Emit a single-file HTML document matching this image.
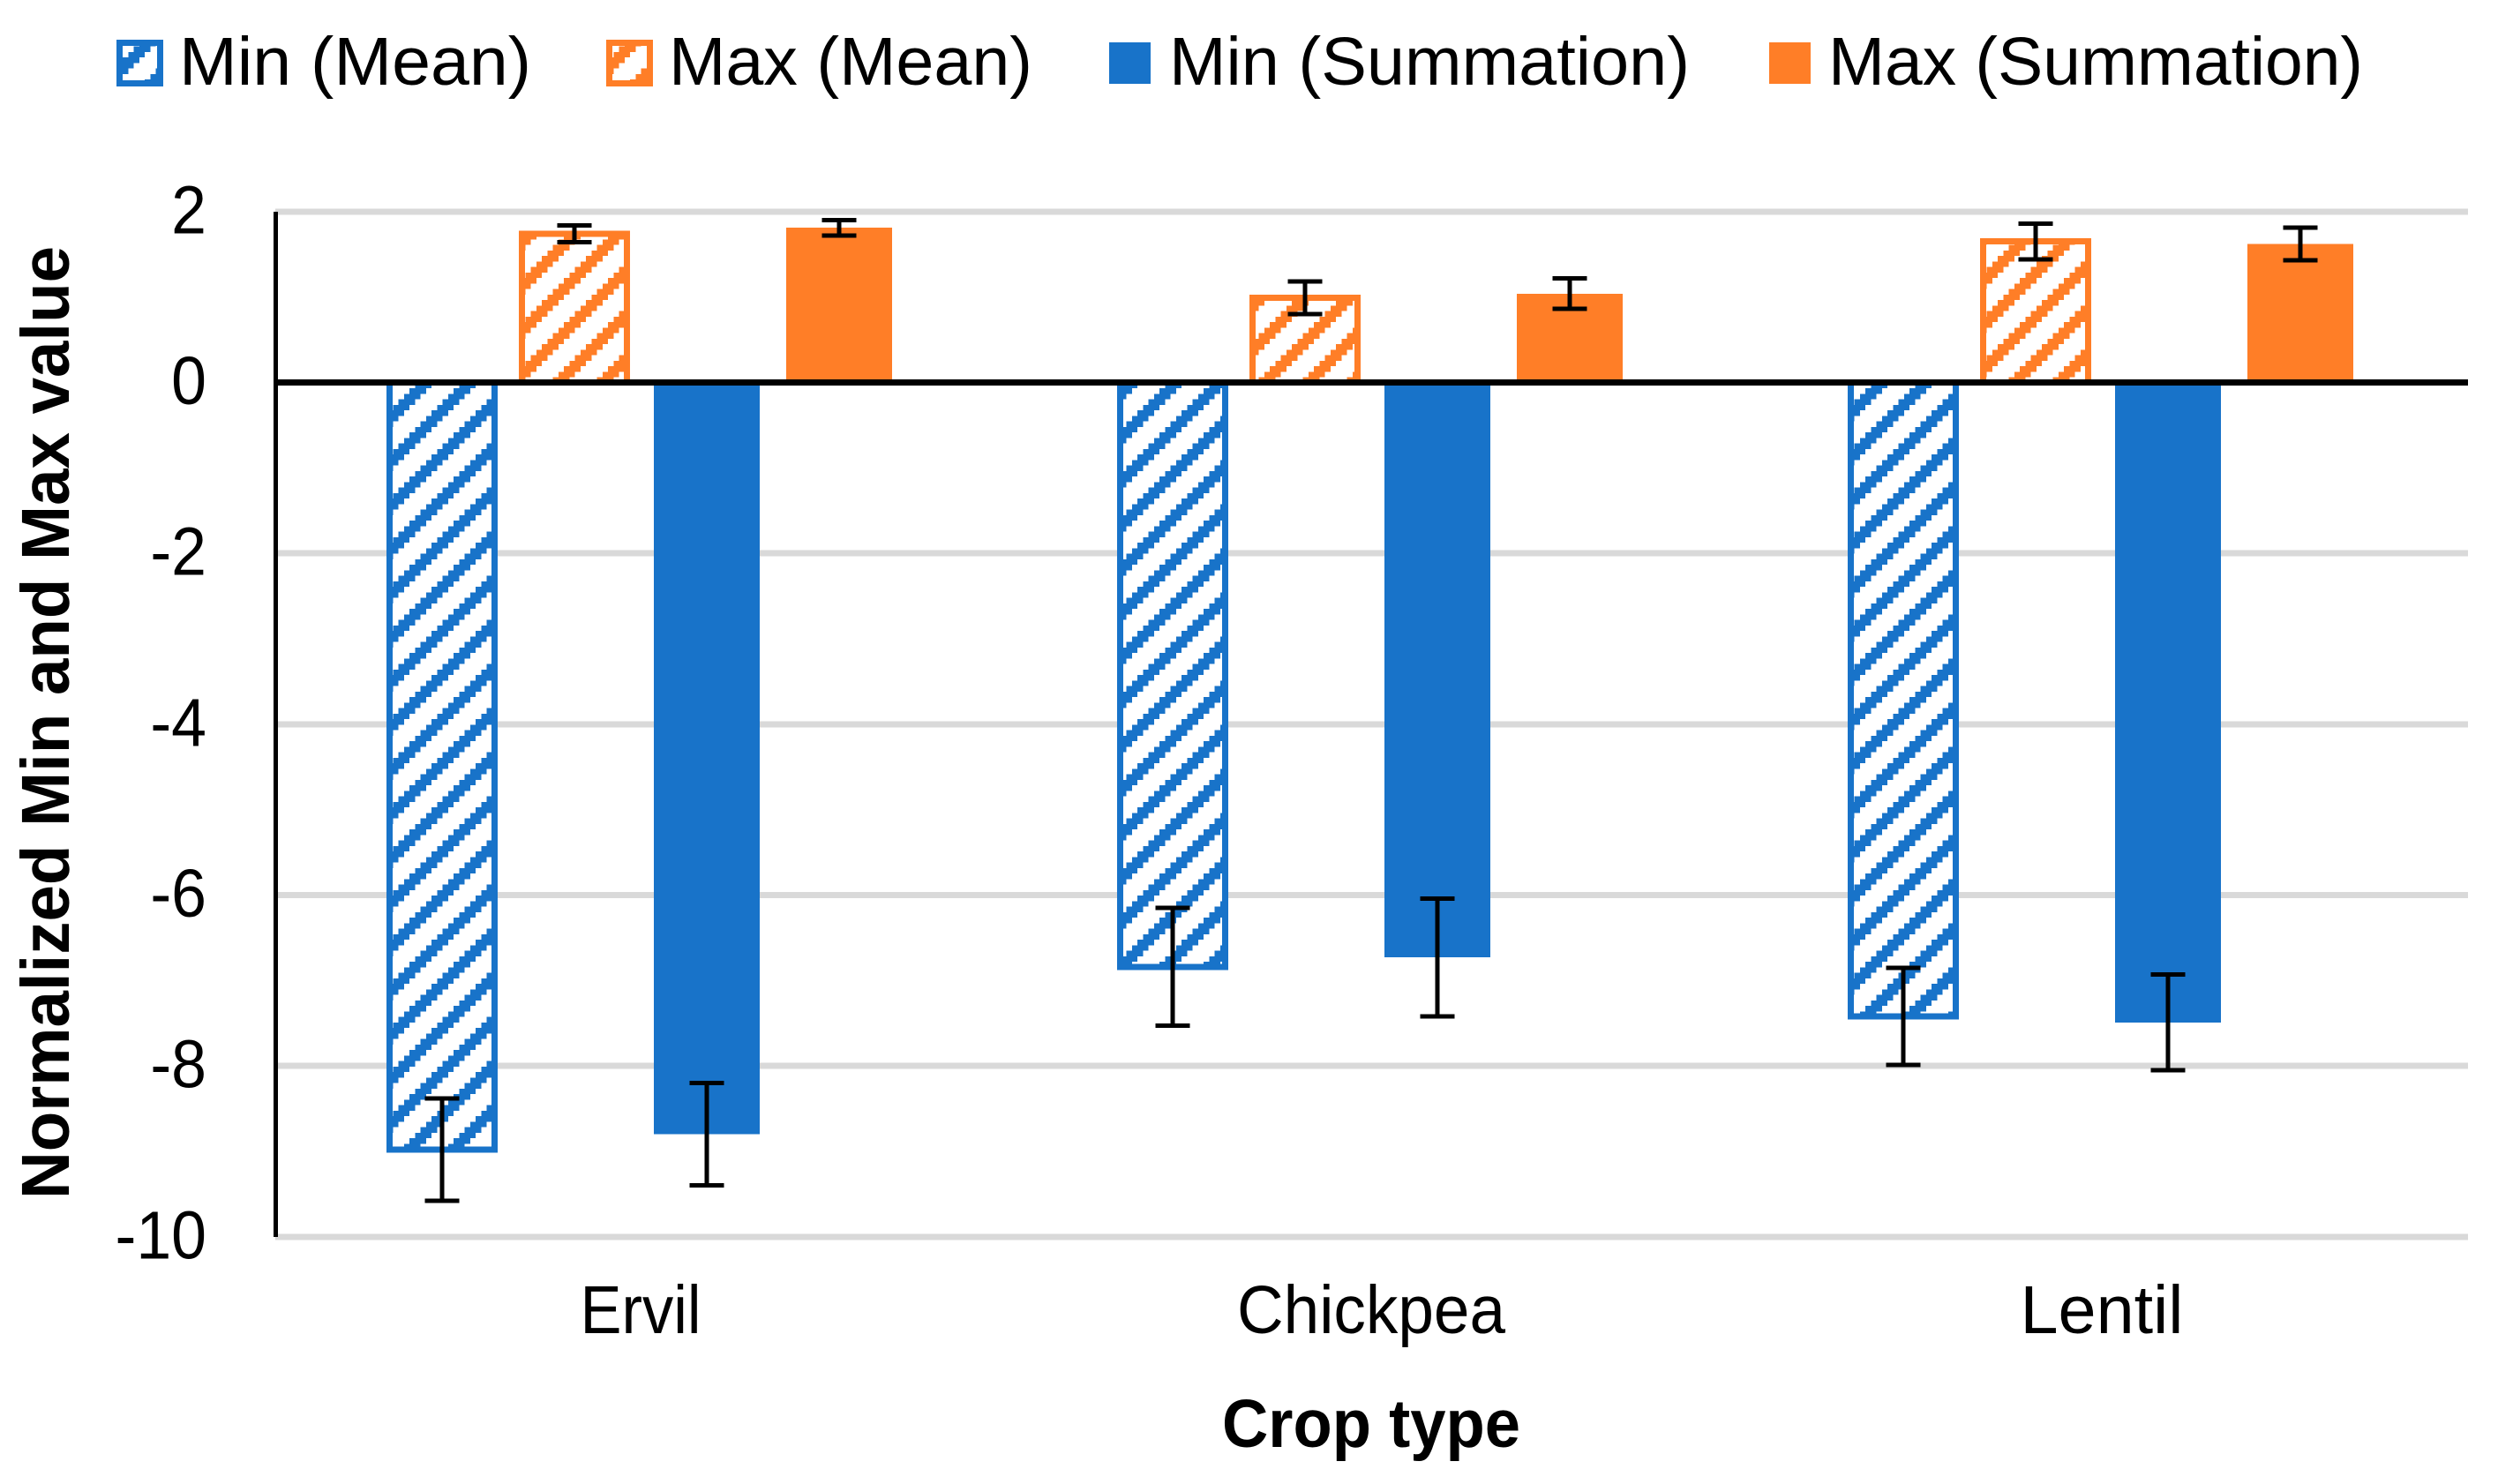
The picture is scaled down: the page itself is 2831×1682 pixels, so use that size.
<!DOCTYPE html>
<html lang="en">
<head>
<meta charset="utf-8">
<title>Normalized Min and Max value by crop type</title>
<style>
  html, body { margin: 0; padding: 0; background: #ffffff; }
  svg { display: block; }
  text { font-family: "Liberation Sans", sans-serif; fill: #000000; }
  rect { shape-rendering: crispEdges; }
</style>
</head>
<body>
<svg id="chart" xmlns="http://www.w3.org/2000/svg" width="2831" height="1682" viewBox="0 0 2831 1682">
  <defs>
    <pattern id="hatch-blue" patternUnits="userSpaceOnUse" width="50" height="50" shape-rendering="crispEdges"><rect width="50" height="50" fill="#ffffff"/><g id="hatch-blue-cells" fill="#1873c9"></g></pattern>
    <pattern id="hatch-orange" patternUnits="userSpaceOnUse" width="50" height="50" shape-rendering="crispEdges"><rect width="50" height="50" fill="#ffffff"/><g id="hatch-orange-cells" fill="#ff7e27"></g></pattern>
  </defs>
  <rect width="2831" height="1682" fill="#ffffff"/>

  <g>
    <g>
      <rect x="135.5" y="48.5" width="46" height="46" fill="url(#hatch-blue)" stroke="#1873c9" stroke-width="7"/>
      <text x="203" y="96" font-size="77" textLength="399" lengthAdjust="spacingAndGlyphs">Min (Mean)</text>
    </g>
    <g>
      <rect x="690.5" y="48.5" width="46" height="46" fill="url(#hatch-orange)" stroke="#ff7e27" stroke-width="7"/>
      <text x="758" y="96" font-size="77" textLength="412" lengthAdjust="spacingAndGlyphs">Max (Mean)</text>
    </g>
    <g>
      <rect x="1257" y="48" width="47" height="47" fill="#1873c9"/>
      <text x="1325" y="96" font-size="77" textLength="590" lengthAdjust="spacingAndGlyphs">Min (Summation)</text>
    </g>
    <g>
      <rect x="2005" y="48" width="47" height="47" fill="#ff7e27"/>
      <text x="2072" y="96" font-size="77" textLength="606" lengthAdjust="spacingAndGlyphs">Max (Summation)</text>
    </g>
  </g>

  <g id="grid"></g>
  <g id="bars"></g>
  <g id="axes"></g>
  <g id="errors"></g>
  <g id="ticks"></g>
  <g id="cats"></g>

  <text x="1554" y="1640" font-size="77" font-weight="700" text-anchor="middle" textLength="338" lengthAdjust="spacingAndGlyphs">Crop type</text>
  <text transform="translate(78 1359) rotate(-90)" x="0" y="0" font-size="77" font-weight="700" textLength="1080" lengthAdjust="spacingAndGlyphs">Normalized Min and Max value</text>
</svg>

<script>
const categories = ["Ervil", "Chickpea", "Lentil"];
const tickValues = [2, 0, -2, -4, -6, -8, -10];
const tickLabels = ["2", "0", "-2", "-4", "-6", "-8", "-10"];

const minMean = [-8.98, -6.84, -7.42];
const maxMean = [1.74, 0.99, 1.65];
const minSum = [-8.80, -6.73, -7.49];
const maxSum = [1.81, 1.04, 1.62];

const minMeanErr = [0.60, 0.69, 0.57];
const maxMeanErr = [0.10, 0.19, 0.21];
const minSumErr = [0.60, 0.69, 0.56];
const maxSumErr = [0.09, 0.18, 0.19];

const NS = "http://www.w3.org/2000/svg";
const plotLeft = 312, plotRight = 2797;
const zeroY = 433.5, pxPerUnit = 96.83;
const bandWidth = 828, seriesStep = 150;
const BLUE = "#1873c9", ORANGE = "#ff7e27";
const labelFit = { Ervil: 137, Chickpea: 304, Lentil: 185 };

function yScale(v) { return zeroY - v * pxPerUnit; }
function xScale(cat, series) { return plotLeft + bandWidth * (cat + 0.5) + (series - 1.5) * seriesStep; }

function make(tag, attrs, parent) {
  const el = document.createElementNS(NS, tag);
  for (const k in attrs) el.setAttribute(k, attrs[k]);
  parent.appendChild(el);
  return el;
}

// 8x8 "wide upward diagonal" hatch tiled at 50px, anchored globally like the source bitmap fill
function buildHatch(id) {
  const g = document.getElementById(id);
  const cell = 6.25;
  for (let r = 0; r < 8; r++) {
    const y0 = (40 + cell * r) % 50;
    const x0 = ((14 - cell * r) % 50 + 50) % 50;
    [y0, y0 - 50].forEach(function (y) {
      [x0, x0 - 50].forEach(function (x) {
        make("rect", { x: x, y: y, width: cell * 3, height: cell }, g);
      });
    });
  }
}
buildHatch("hatch-blue-cells");
buildHatch("hatch-orange-cells");

// gridlines
const gridG = document.getElementById("grid");
tickValues.forEach(function (v) {
  if (v === 0) return;
  const ln = make("rect", { x: plotLeft, y: yScale(v) - 3.5, width: plotRight - plotLeft, height: 7, fill: "#d9d9d9" }, gridG);
  
  
});

// bars
const barsG = document.getElementById("bars");
const errG = document.getElementById("errors");
const seriesList = [
  { key: "min-mean", values: minMean, errs: minMeanErr, color: BLUE, hatch: "url(#hatch-blue)" },
  { key: "max-mean", values: maxMean, errs: maxMeanErr, color: ORANGE, hatch: "url(#hatch-orange)" },
  { key: "min-summation", values: minSum, errs: minSumErr, color: BLUE, hatch: null },
  { key: "max-summation", values: maxSum, errs: maxSumErr, color: ORANGE, hatch: null }
];

seriesList.forEach(function (s, si) {
  categories.forEach(function (cat, ci) {
    const cx = xScale(ci, si);
    const v = s.values[ci];
    const y0 = yScale(0), y1 = yScale(v);
    const top = Math.min(y0, y1), h = Math.abs(y1 - y0);
    const attrs = s.hatch
      ? { x: cx - 59.5, y: top, width: 119, height: h, fill: s.hatch, stroke: s.color, "stroke-width": 7 }
      : { x: cx - 60, y: top, width: 120, height: h, fill: s.color };
    const bar = make("rect", attrs, barsG);
    
    

    const e = s.errs[ci];
    const eHi = yScale(v + e), eLo = yScale(v - e);
    const eb = make("g", {}, errG);
    
    
    make("rect", { x: cx - 2.5, y: eHi, width: 5, height: eLo - eHi, fill: "#000" }, eb);
    make("rect", { x: cx - 19.5, y: eHi - 2.5, width: 39, height: 5, fill: "#000" }, eb);
    make("rect", { x: cx - 19.5, y: eLo - 2.5, width: 39, height: 5, fill: "#000" }, eb);
  });
});

// axes
const axesG = document.getElementById("axes");
const zeroLine = make("rect", { x: 310, y: yScale(0) - 3.5, width: plotRight - 310, height: 7, fill: "#000" }, axesG);


const yTop = yScale(tickValues[0]), yBot = yScale(tickValues[tickValues.length - 1]);
const yAxis = make("rect", { x: 310, y: yTop, width: 5, height: yBot - yTop, fill: "#000" }, axesG);



// tick labels
const ticksG = document.getElementById("ticks");
tickValues.forEach(function (v, i) {
  const t = make("text", { transform: "translate(234 " + (yScale(v) + 24.5) + ") scale(0.93 1)", "font-size": 77, "text-anchor": "end" }, ticksG);
  
  
  t.textContent = tickLabels[i];
});

// category labels
const catsG = document.getElementById("cats");
categories.forEach(function (c, i) {
  const t = make("text", { x: plotLeft + bandWidth * (i + 0.5), y: 1511, "font-size": 77, "text-anchor": "middle", textLength: labelFit[c] || 200, lengthAdjust: "spacingAndGlyphs" }, catsG);
  
  
  t.textContent = c;
});
</script>
</body>
</html>
